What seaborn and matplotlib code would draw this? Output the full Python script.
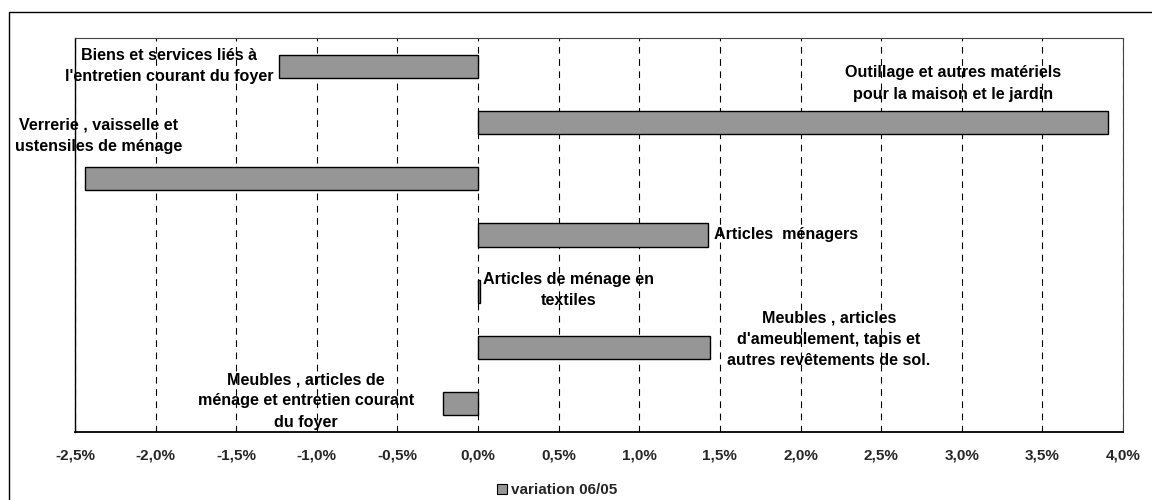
import matplotlib
matplotlib.use("Agg")
import matplotlib.pyplot as plt
from matplotlib.patches import Rectangle, Patch
from matplotlib.ticker import FuncFormatter
import seaborn as sns

categories = [
    "Biens et services liés à l'entretien courant du foyer",
    "Outillage et autres matériels pour la maison et le jardin",
    "Verrerie , vaisselle et ustensiles de ménage",
    "Articles  ménagers",
    "Articles de ménage en textiles",
    "Meubles , articles d'ameublement, tapis et autres revêtements de sol.",
    "Meubles , articles de ménage et entretien courant du foyer",
]
values = [-1.235, 3.91, -2.435, 1.425, 0.012, 1.44, -0.218]
label_texts = [
    "Biens et services liés à\nl'entretien courant du foyer",
    "Outillage et autres matériels\npour la maison et le jardin",
    "Verrerie , vaisselle et\nustensiles de ménage",
    "Articles  ménagers",
    "Articles de ménage en\ntextiles",
    "Meubles , articles\nd'ameublement, tapis et\nautres revêtements de sol.",
    "Meubles , articles de\nménage et entretien courant\ndu foyer",
]
x_ticks = [-2.5, -2.0, -1.5, -1.0, -0.5, 0.0, 0.5, 1.0, 1.5, 2.0, 2.5, 3.0, 3.5, 4.0]
series_name = "variation 06/05"

# label placement (pixel offsets from bar end, alignment)
label_dx = [-5.5, -155, 13, 6, 3, 17, -29]
label_dy = [0.5, 39, 43, 0, 1.5, 8, 3]
label_ha = ["right", "center", "center", "left", "left", "left", "right"]

sns.set_style("white")
plt.rcParams["font.family"] = ["Liberation Sans", "DejaVu Sans"]
plt.rcParams["font.weight"] = "bold"

FS = 11
LFS = 11.6
W, H = 1152, 500
fig = plt.figure(figsize=(W / 100, H / 100), dpi=100)
fig.patch.set_facecolor("white")
fig.patches.append(Rectangle((9 / W, -0.02), 1.05, 1 - 12 / H + 0.02,
                             transform=fig.transFigure, fill=False,
                             edgecolor="black", linewidth=1.0))

ax = fig.add_axes([75 / W, 1 - 432 / H, (1123 - 75) / W, (432 - 38) / H])

sns.barplot(x=values, y=categories, orient="h", color="#969696", saturation=1,
            edgecolor="black", linewidth=1.0, width=0.41, ax=ax)

ax.set_xlim(x_ticks[0], x_ticks[-1])
ax.set_ylim(len(categories) - 0.5, -0.5)
ax.set_xticks(x_ticks)
ax.xaxis.set_major_formatter(FuncFormatter(lambda v, p: f"{v:.1f}%".replace(".", ",")))
ax.set_yticks([])
ax.set_ylabel("")
ax.set_xlabel("")
ax.set_axisbelow(True)
ax.xaxis.grid(True, linestyle=(0, (6, 5)), color="black", linewidth=0.8)
ax.tick_params(axis="x", direction="out", length=3.5, width=1, color="black",
               labelsize=FS, pad=8.5)
for lbl in ax.get_xticklabels():
    lbl.set_fontweight("bold")
for s in ["left", "bottom"]:
    ax.spines[s].set_color("black")
    ax.spines[s].set_linewidth(1.0)
for s in ["top", "right"]:
    ax.spines[s].set_color("#444444")
    ax.spines[s].set_linewidth(0.8)
ax.spines["bottom"].set_linewidth(1.3)

for i, (v, txt) in enumerate(zip(values, label_texts)):
    ax.annotate(txt, xy=(v, i), xytext=(label_dx[i] * 0.72, label_dy[i] * 0.72),
                textcoords="offset points", ha=label_ha[i], va="center",
                multialignment="center", fontsize=LFS, fontweight="bold",
                linespacing=1.52, color="black")

handle = Patch(facecolor="#969696", edgecolor="black", linewidth=0.8)
fig.legend([handle], [series_name], loc="center", bbox_to_anchor=(557 / W, 1 - 490 / H),
           frameon=False, prop={"weight": "bold", "size": FS},
           handlelength=0.65, handleheight=0.65, handletextpad=0.3)

fig.savefig("out.png", dpi=100, facecolor="white")
